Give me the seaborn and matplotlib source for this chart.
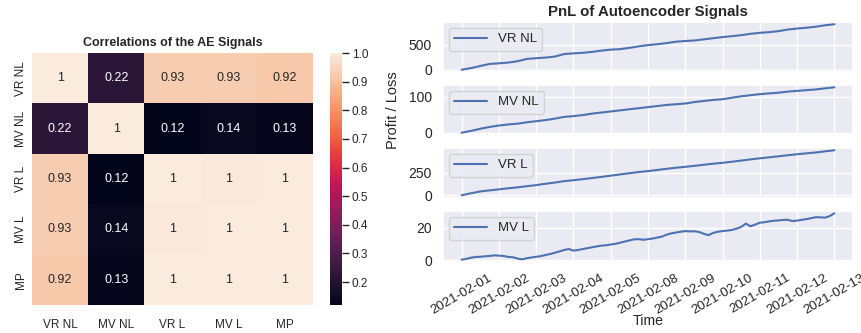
import numpy as np
import pandas as pd
import matplotlib
matplotlib.use("Agg")
import matplotlib.pyplot as plt
import seaborn as sns

signals = ["VR NL", "MV NL", "VR L", "MV L", "MP"]
corr_vr_nl = [1.0, 0.22, 0.93, 0.93, 0.92]
corr_mv_nl = [0.22, 1.0, 0.12, 0.14, 0.13]
corr_vr_l = [0.93, 0.12, 1.0, 0.996, 0.998]
corr_mv_l = [0.93, 0.14, 0.996, 1.0, 0.997]
corr_mp = [0.92, 0.13, 0.998, 0.997, 1.0]

date_labels = ["2021-02-01", "2021-02-02", "2021-02-03", "2021-02-04", "2021-02-05",
               "2021-02-08", "2021-02-09", "2021-02-10", "2021-02-11", "2021-02-12",
               "2021-02-13"]

# cumulative PnL, sampled every quarter of a trading day
pnl_vr_nl = [0, 32, 75, 115, 128, 142, 170, 215, 230, 242, 262, 312, 326, 337, 355, 380,
             400, 410, 435, 465, 490, 508, 530, 558, 572, 582, 605, 628, 650, 668, 688,
             715, 735, 748, 768, 800, 820, 836, 856, 885, 905]
pnl_mv_nl = [0, 5, 11, 16, 20, 23, 25, 29, 32, 35, 39, 44, 46, 49, 53, 56, 59, 62, 65, 68,
             71, 74, 77, 79, 81, 85, 88, 91, 93, 97, 101, 104, 107, 109, 111, 114, 116,
             118, 120, 123, 126]
pnl_vr_l = [0, 22, 42, 54, 65, 77, 87, 100, 112, 127, 140, 156, 166, 178, 190, 203, 216,
            230, 243, 256, 267, 279, 292, 304, 314, 325, 337, 349, 358, 370, 383, 396,
            408, 419, 430, 442, 453, 463, 472, 485, 497]
# sampled every eighth of a trading day
pnl_mv_l = [0.3, 0.8, 1.5, 2.0, 2.1, 2.4, 2.6, 3.0, 2.8, 2.6, 2.0, 1.8, 1.0, 0.5, 1.2, 1.7,
            2.1, 2.5, 3.2, 3.8, 4.6, 5.4, 6.3, 6.9, 5.9, 6.3, 6.9, 7.4, 8.0, 8.5, 9.0, 9.2,
            9.7, 10.1, 10.8, 11.5, 12.2, 12.9, 13.0, 12.6, 13.0, 13.4, 14.0, 14.6, 15.8,
            16.6, 17.1, 17.6, 18.0, 17.8, 17.9, 17.4, 16.3, 15.5, 16.9, 17.6, 18.0, 18.3,
            18.7, 19.5, 20.6, 22.6, 21.0, 22.0, 23.2, 23.5, 24.0, 24.4, 24.6, 24.9, 25.0,
            24.2, 24.5, 25.0, 25.4, 26.0, 26.6, 26.5, 26.3, 27.3, 29.0]

yticks_vr_nl = [0, 500]
yticks_mv_nl = [0, 100]
yticks_vr_l = [0, 250]
yticks_mv_l = [0, 20]

sns.set_theme(style="darkgrid")
plt.rcParams["font.family"] = ["Liberation Sans", "DejaVu Sans"]
txt = "#262626"

fig = plt.figure(figsize=(8.61, 3.33), dpi=100)

# ---- heatmap ----
corr = pd.DataFrame([corr_vr_nl, corr_mv_nl, corr_vr_l, corr_mv_l, corr_mp],
                    index=signals, columns=signals)
axh = fig.add_axes([32 / 861, 1 - 305 / 333, 281 / 861, 252 / 333])
axc = fig.add_axes([330 / 861, 1 - 305 / 333, 12 / 861, 252 / 333])
sns.heatmap(corr, annot=True, ax=axh, cbar_ax=axc, annot_kws={"fontsize": 9})
axh.set_title("Correlations of the AE Signals", fontsize=9, fontweight="bold", color=txt, pad=5)
axh.tick_params(axis="both", labelsize=8.5, colors=txt, length=0)
axh.tick_params(axis="x", pad=10)
plt.setp(axh.get_yticklabels(), rotation=90, va="center")
plt.setp(axh.get_xticklabels(), rotation=0)
axc.set_yticks([0.2, 0.3, 0.4, 0.5, 0.6, 0.7, 0.8, 0.9, 1.0])
axc.tick_params(axis="y", labelsize=8.5, colors=txt, length=5, width=1, pad=2)
for lab in axc.get_yticklabels():
    lab.set_color(txt)

# ---- PnL panels ----
series = [("VR NL", pnl_vr_nl, yticks_vr_nl, 4),
          ("MV NL", pnl_mv_nl, yticks_mv_nl, 4),
          ("VR L", pnl_vr_l, yticks_vr_l, 4),
          ("MV L", pnl_mv_l, yticks_mv_l, 8)]
tops = [22, 85, 148, 211]
bots = [72, 135, 197.5, 262]
axes = []
for i, (name, vals, yt, per_day) in enumerate(series):
    ax = fig.add_axes([443 / 861, 1 - bots[i] / 333, 410 / 861, (bots[i] - tops[i]) / 333],
                      sharex=axes[0] if axes else None)
    df = pd.DataFrame({"t": np.arange(len(vals)) / per_day, "pnl": vals})
    sns.lineplot(data=df, x="t", y="pnl", ax=ax, color="#4C72B0", linewidth=1.5, label=name)
    ax.set_yticks(yt)
    ax.set_xlabel("")
    ax.set_ylabel("")
    ax.tick_params(axis="both", labelsize=10, colors=txt, pad=2)
    leg = ax.legend(loc="upper left", fontsize=9.5, frameon=True, borderpad=0.4,
                    handlelength=2.5, borderaxespad=0.45)
    for t in leg.get_texts():
        t.set_color(txt)
    axes.append(ax)

axes[0].set_title("PnL of Autoencoder Signals", fontsize=10.8, fontweight="bold", color=txt, pad=4)
axes[1].set_ylabel("Profit / Loss", fontsize=10.5, color=txt, labelpad=6)
axes[-1].set_xticks(range(len(date_labels)))
axes[-1].set_xticklabels(date_labels, rotation=30, ha="center")
axes[-1].tick_params(axis="x", labelsize=9.6, pad=1)
axes[-1].set_xlabel("Time", fontsize=10.2, color=txt, labelpad=-2)
for ax in axes[:-1]:
    plt.setp(ax.get_xticklabels(), visible=False)

fig.savefig("out.png", dpi=100)
